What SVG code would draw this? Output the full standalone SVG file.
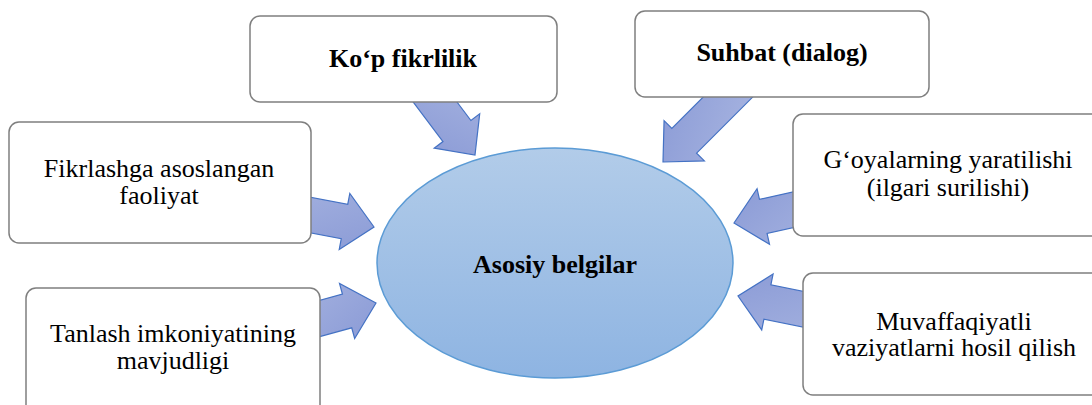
<svg xmlns="http://www.w3.org/2000/svg" width="1092" height="405" viewBox="0 0 1092 405">
  <defs>
    <linearGradient id="ovalFill" x1="0" y1="0" x2="0" y2="1">
      <stop offset="0" stop-color="#b2cce9"/>
      <stop offset="1" stop-color="#8eb4e2"/>
    </linearGradient>
    <linearGradient id="arrowFill" x1="0" y1="0" x2="1" y2="1">
      <stop offset="0" stop-color="#a6b3e0"/>
      <stop offset="1" stop-color="#8b9bd6"/>
    </linearGradient>
    <!-- block arrow: tip at origin, pointing +x -->
    <path id="blockArrow" d="M0,0 L-30,-28.5 L-30,-17.5 L-110,-17.5 L-110,17.5 L-30,17.5 L-30,28.5 Z"/>
  </defs>
  <style>
    .box { fill: #ffffff; stroke: #7f7f7f; stroke-width: 1.5; }
    .arrow { fill: url(#arrowFill); stroke: #4472c4; stroke-width: 1.2; stroke-linejoin: miter; }
    .oval { fill: url(#ovalFill); stroke: #5b9bd5; stroke-width: 1.5; }
    text { font-family: 'Liberation Serif', 'DejaVu Serif', serif; font-size: 26px; fill: #000000; text-anchor: middle; }
    .bold { font-weight: bold; }
  </style>

  <rect width="1092" height="405" fill="#ffffff"/>

  <!-- connectors: block arrows pointing at the central oval -->
  <g id="connectors">
    <use href="#blockArrow" class="arrow" transform="translate(475,155) rotate(53)"/>
    <use href="#blockArrow" class="arrow" transform="translate(663,162) rotate(135)"/>
    <use href="#blockArrow" class="arrow" transform="translate(374,227) rotate(10.7)"/>
    <use href="#blockArrow" class="arrow" transform="translate(376,303) rotate(-15.4)"/>
    <use href="#blockArrow" class="arrow" transform="translate(734,223) rotate(167.4)"/>
    <use href="#blockArrow" class="arrow" transform="translate(738,296) rotate(191.5)"/>
  </g>

  <g id="center">
    <ellipse class="oval" cx="555" cy="263" rx="178" ry="115"/>
    <text class="bold" x="555" y="273">Asosiy belgilar</text>
  </g>

  <g id="kop-fikrlilik">
    <rect class="box" x="250" y="16" width="307" height="86" rx="10"/>
    <text class="bold" x="403" y="67">Koʻp fikrlilik</text>
  </g>

  <g id="suhbat">
    <rect class="box" x="635" y="11" width="294" height="86" rx="10"/>
    <text class="bold" x="782" y="61">Suhbat (dialog)</text>
  </g>

  <g id="fikrlashga">
    <rect class="box" x="9" y="122" width="302" height="121" rx="10"/>
    <text x="159" y="176.5">Fikrlashga asoslangan</text>
    <text x="159" y="203.5">faoliyat</text>
  </g>

  <g id="tanlash">
    <rect class="box" x="26" y="288" width="294" height="130" rx="10"/>
    <text x="173" y="341.5">Tanlash imkoniyatining</text>
    <text x="173" y="368.5">mavjudligi</text>
  </g>

  <g id="goyalarning">
    <rect class="box" x="793" y="114" width="310" height="122" rx="10"/>
    <text x="948" y="168">Gʻoyalarning yaratilishi</text>
    <text x="948" y="195.5">(ilgari surilishi)</text>
  </g>

  <g id="muvaffaqiyatli">
    <rect class="box" x="803" y="273" width="300" height="122" rx="10"/>
    <text x="954" y="329.5">Muvaffaqiyatli</text>
    <text x="954" y="356">vaziyatlarni hosil qilish</text>
  </g>
</svg>
